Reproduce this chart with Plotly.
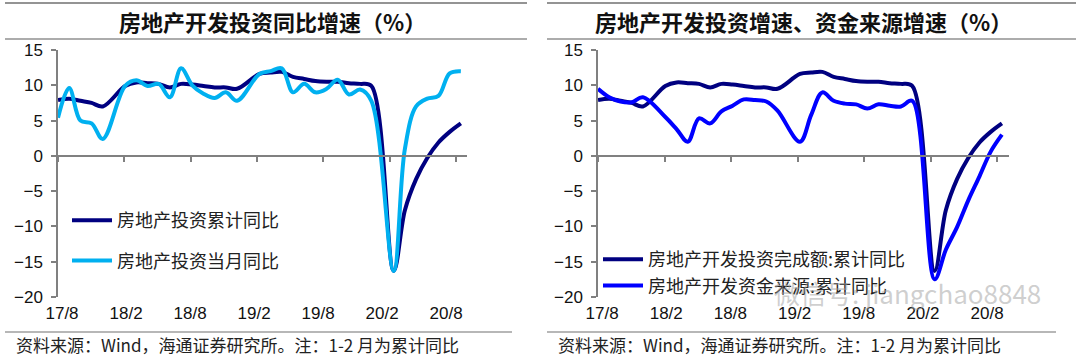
import plotly.graph_objects as go

# ---------------- data ----------------
months = ["17/8", "17/9", "17/10", "17/11", "17/12",
          "18/2", "18/3", "18/4", "18/5", "18/6", "18/7", "18/8", "18/9", "18/10", "18/11", "18/12",
          "19/2", "19/3", "19/4", "19/5", "19/6", "19/7", "19/8", "19/9", "19/10", "19/11", "19/12",
          "20/2", "20/3", "20/4", "20/5", "20/6", "20/7", "20/8"]

inv_cum = [7.9, 8.1, 7.8, 7.5, 7.0,
           9.9, 10.4, 10.3, 10.2, 9.7, 10.2, 10.1, 9.9, 9.7, 9.7, 9.5,
           11.6, 11.8, 11.9, 11.2, 10.9, 10.6, 10.5, 10.5, 10.3, 10.2, 9.9,
           -16.3, -7.7, -3.3, -0.3, 1.9, 3.4, 4.6]

inv_month = [5.4, 9.6, 5.0, 4.6, 2.4,
             9.9, 10.7, 9.9, 10.2, 8.3, 12.4, 10.0, 8.8, 8.2, 9.0, 7.8,
             11.6, 12.0, 12.4, 9.0, 10.2, 9.0, 9.5, 10.8, 8.7, 9.4, 7.8,
             -16.3, 1.0, 7.0, 8.1, 8.5, 11.7, 12.0]

funds_cum = [9.5, 8.3, 7.7, 7.6, 8.3,
             5.5, 3.8, 2.0, 5.3, 4.6, 6.3, 7.1, 8.0, 7.9, 7.7, 6.4,
             2.0, 5.8, 9.0, 7.8, 7.4, 7.3, 6.7, 7.3, 7.1, 7.0, 7.8,
             -17.5, -13.3, -10.1, -6.3, -2.9, 0.6, 3.0]

tick_labels = ["17/8", "18/2", "18/8", "19/2", "19/8", "20/2", "20/8"]

title_left = "房地产开发投资同比增速（%）"
title_right = "房地产开发投资增速、资金来源增速（%）"
name_cum = "房地产投资累计同比"
name_month = "房地产投资当月同比"
name_cum2 = "房地产开发投资完成额:累计同比"
name_funds = "房地产开发资金来源:累计同比"
source_text = "资料来源：Wind，海通证券研究所。注：1-2 月为累计同比"
watermark = "微信号: jiangchao8848"

# ---------------- helpers ----------------
def month_index(lbl):
    yy, mm = lbl.split("/")
    return (int(yy) - 17) * 12 + int(mm) - 8

x_idx = [month_index(m) for m in months]

W, H = 1080, 357
L, R, T, B = 58, 71, 50, 60
PW, PH = W - L - R, H - T - B

def px(xp):
    return (xp - L) / PW

def py(yp):
    return (H - B - yp) / PH

YMIN, YMAX = -20, 15
TICK_STEP = 5.93
LABEL_START, LABEL_STEP = 0.36, 5.72
tick_pos = [k * TICK_STEP for k in range(len(tick_labels))]
label_pos = [LABEL_START + k * LABEL_STEP for k in range(len(tick_labels))]

DARK = "#000080"
LIGHT = "#00B0F0"
BLUE = "#0000FF"
GRAY = "#808080"
FONT_NUM = "Liberation Sans, Arial, sans-serif"
FONT_CJK = "Noto Sans CJK SC, sans-serif"

fig = go.Figure()

# left panel
fig.add_trace(go.Scatter(x=x_idx, y=inv_cum, name=name_cum, mode="lines",
                         line=dict(color=DARK, width=4, shape="spline"),
                         xaxis="x", yaxis="y", legend="legend", legendgroup="a"))
fig.add_trace(go.Scatter(x=x_idx, y=inv_month, name=name_month, mode="lines",
                         line=dict(color=LIGHT, width=4, shape="spline"),
                         xaxis="x", yaxis="y", legend="legend", legendgroup="b"))
# right panel
fig.add_trace(go.Scatter(x=x_idx, y=inv_cum, name=name_cum2, mode="lines",
                         line=dict(color=DARK, width=4, shape="spline"),
                         xaxis="x2", yaxis="y2", legend="legend2"))
fig.add_trace(go.Scatter(x=x_idx, y=funds_cum, name=name_funds, mode="lines",
                         line=dict(color=BLUE, width=4, shape="spline"),
                         xaxis="x2", yaxis="y2", legend="legend2"))
# empty traces to carry the zero-line tick axes
fig.add_trace(go.Scatter(x=[], y=[], xaxis="x3", yaxis="y", showlegend=False, hoverinfo="skip"))
fig.add_trace(go.Scatter(x=[], y=[], xaxis="x4", yaxis="y2", showlegend=False, hoverinfo="skip"))

dom_left = [0, px(467)]
dom_right = [px(598), 1]
rng_left = [0, 36.55]
rng_right = [0, 36.63]
zero_pos = (0 - YMIN) / (YMAX - YMIN)

label_axis = dict(showline=False, showgrid=False, zeroline=False, ticks="",
                  tickmode="array", tickvals=label_pos, ticktext=tick_labels,
                  tickfont=dict(family=FONT_NUM, size=17, color="#111111"),
                  ticklabelstandoff=4, automargin=False, fixedrange=True)
tick_axis = dict(showline=True, linecolor=GRAY, linewidth=1.5, showgrid=False, zeroline=False,
                 ticks="outside", ticklen=5, tickcolor=GRAY, tickwidth=1.5,
                 tickmode="array", tickvals=tick_pos, showticklabels=False,
                 anchor="free", position=zero_pos, automargin=False)
y_axis = dict(range=[YMIN, YMAX], dtick=5, tick0=0, showline=True, linecolor=GRAY, linewidth=1.5,
              showgrid=False, zeroline=False, ticks="outside", ticklen=5, tickcolor=GRAY, tickwidth=1.5,
              tickfont=dict(family=FONT_NUM, size=17, color="#111111"), ticklabelstandoff=5,
              domain=[0, 1], automargin=False)

fig.update_layout(
    width=W, height=H, autosize=False,
    margin=dict(l=L, r=R, t=T, b=B, pad=0),
    paper_bgcolor="white", plot_bgcolor="white",
    xaxis=dict(domain=dom_left, range=rng_left, anchor="y", **label_axis),
    xaxis2=dict(domain=dom_right, range=rng_right, anchor="y2", **label_axis),
    xaxis3=dict(domain=dom_left, range=rng_left, overlaying="x", **tick_axis),
    xaxis4=dict(domain=dom_right, range=rng_right, overlaying="x2", **tick_axis),
    yaxis=dict(anchor="x", **y_axis),
    yaxis2=dict(anchor="x2", **y_axis),
    legend=dict(x=px(67), y=py(240.5), xanchor="left", yanchor="middle",
                bgcolor="rgba(0,0,0,0)", borderwidth=0, tracegroupgap=14, itemwidth=40,
                font=dict(family=FONT_CJK, size=18, color="#222222"), traceorder="grouped"),
    legend2=dict(x=px(598), y=py(272.5), xanchor="left", yanchor="middle",
                 bgcolor="rgba(0,0,0,0)", borderwidth=0, itemwidth=40,
                 font=dict(family=FONT_CJK, size=18, color="#222222"), traceorder="normal"),
    showlegend=True,
)

# title bars and source lines (frame decoration)
shapes = []
for x0, x1 in [(5, 527), (547, 1076)]:
    shapes.append(dict(type="line", xref="paper", yref="paper", x0=px(x0), x1=px(x1),
                       y0=py(3), y1=py(3), line=dict(color="#707070", width=1.5)))
    shapes.append(dict(type="line", xref="paper", yref="paper", x0=px(x0), x1=px(x1),
                       y0=py(39), y1=py(39), line=dict(color="#909090", width=1.5)))
for x0, x1 in [(5, 512), (547, 1056)]:
    shapes.append(dict(type="line", xref="paper", yref="paper", x0=px(x0), x1=px(x1),
                       y0=py(332), y1=py(332), line=dict(color="#707070", width=1.2)))
fig.update_layout(shapes=shapes)

ann = []
ann.append(dict(text=title_left, x=px(272), y=py(21), xref="paper", yref="paper",
                xanchor="center", yanchor="middle", showarrow=False,
                font=dict(family=FONT_CJK, size=22, color="#111111", weight="bold")))
ann.append(dict(text=title_right, x=px(803), y=py(21), xref="paper", yref="paper",
                xanchor="center", yanchor="middle", showarrow=False,
                font=dict(family=FONT_CJK, size=22, color="#111111", weight="bold")))
for xs in [15, 557]:
    ann.append(dict(text=source_text, x=px(xs), y=py(344.5), xref="paper", yref="paper",
                    xanchor="left", yanchor="middle", showarrow=False, borderpad=0,
                    font=dict(family=FONT_CJK, size=17, color="#222222")))
ann.append(dict(text=watermark, x=px(772), y=py(292), xref="paper", yref="paper",
                xanchor="left", yanchor="middle", showarrow=False,
                font=dict(family=FONT_CJK, size=26, color="rgba(160,160,160,0.5)")))
fig.update_layout(annotations=ann)

fig.write_html("out.html", config={"displayModeBar": False},
               post_script="document.body.style.margin='0px';")
